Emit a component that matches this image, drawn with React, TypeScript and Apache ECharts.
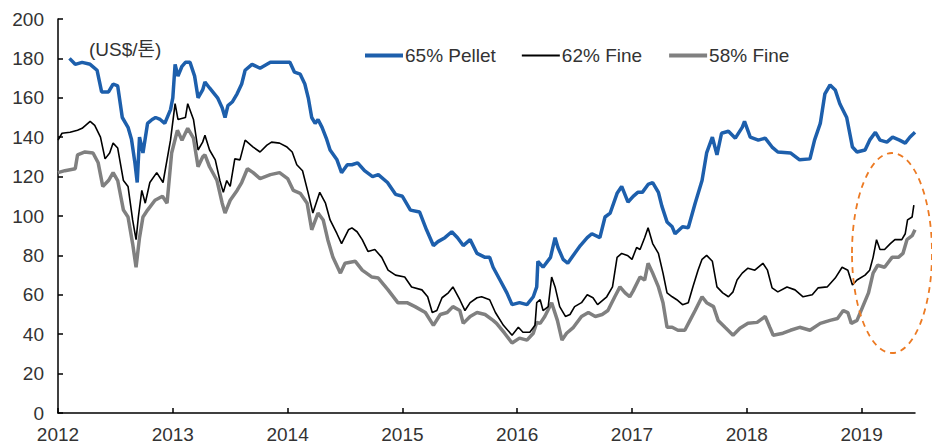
import React, { useEffect, useRef } from "react";
import * as echarts from "echarts";

// x positions are decimal years
const pelletDates = [2012.10,2012.15,2012.21,2012.28,2012.34,2012.38,2012.44,2012.48,2012.52,2012.56,2012.61,2012.64,2012.67,2012.69,2012.71,2012.74,2012.78,2012.82,2012.85,2012.89,2012.93,2012.98,2013.00,2013.02,2013.045,2013.08,2013.11,2013.15,2013.19,2013.22,2013.26,2013.28,2013.32,2013.39,2013.43,2013.455,2013.48,2013.52,2013.56,2013.60,2013.63,2013.69,2013.76,2013.85,2013.93,2014.02,2014.06,2014.11,2014.15,2014.18,2014.21,2014.24,2014.265,2014.30,2014.34,2014.37,2014.43,2014.47,2014.52,2014.56,2014.61,2014.67,2014.74,2014.79,2014.87,2014.94,2015.00,2015.07,2015.15,2015.21,2015.27,2015.31,2015.37,2015.43,2015.48,2015.53,2015.59,2015.65,2015.72,2015.76,2015.79,2015.85,2015.91,2015.955,2016.02,2016.085,2016.14,2016.17,2016.18,2016.225,2016.29,2016.33,2016.355,2016.40,2016.44,2016.50,2016.55,2016.61,2016.65,2016.72,2016.765,2016.81,2016.87,2016.91,2016.965,2017.01,2017.05,2017.09,2017.14,2017.18,2017.23,2017.26,2017.305,2017.35,2017.375,2017.44,2017.49,2017.55,2017.61,2017.65,2017.70,2017.74,2017.78,2017.84,2017.90,2017.96,2017.98,2018.03,2018.10,2018.16,2018.22,2018.27,2018.38,2018.46,2018.55,2018.59,2018.64,2018.68,2018.725,2018.77,2018.81,2018.87,2018.92,2018.96,2019.03,2019.07,2019.12,2019.16,2019.22,2019.27,2019.33,2019.38,2019.42,2019.465];
const pelletValues = [180,177,178,177,174,163,163,167,166,150,145,139,127,117,140,132,147,149,150,149,147,154,160,177,171,176,178,178,171,160,164,168,165,160,155,150,156,158,162,167,174,177,175,178,178,178,173,172,167,160,150,147,149,145,139,133.5,128.5,122,126,126,127,123,120,121,117,111,110,103,102,93,85,87,89,92,89,85,88,81,79,79,74,67.5,61,55,56,55,59,64,77,74,79,89,84,78,76,81,85,89,91,89,99.5,101.5,111.5,115,107,110,112,112,116,117,112,105,97,94.5,91,94.5,94,106.5,118,132,140,131,142,143,139.5,145,148,140,138.5,139.5,135,132.5,132,128.5,129,138.5,147,162,166.5,164,157,150,135,132.5,133.5,138.5,142.5,138.5,137.5,140,138.5,137,140,142.5];

const fine62Dates = [2012.00,2012.035,2012.105,2012.17,2012.21,2012.28,2012.32,2012.37,2012.41,2012.45,2012.48,2012.52,2012.57,2012.61,2012.65,2012.68,2012.70,2012.73,2012.76,2012.80,2012.86,2012.915,2012.98,2013.02,2013.045,2013.11,2013.13,2013.18,2013.22,2013.26,2013.28,2013.32,2013.37,2013.41,2013.44,2013.47,2013.50,2013.54,2013.585,2013.63,2013.70,2013.76,2013.82,2013.86,2013.93,2013.995,2014.04,2014.08,2014.13,2014.18,2014.22,2014.28,2014.33,2014.37,2014.43,2014.47,2014.53,2014.56,2014.605,2014.65,2014.70,2014.76,2014.82,2014.875,2014.94,2015.02,2015.08,2015.17,2015.22,2015.26,2015.30,2015.345,2015.40,2015.44,2015.50,2015.545,2015.59,2015.65,2015.69,2015.76,2015.81,2015.88,2015.955,2016.01,2016.05,2016.11,2016.155,2016.17,2016.20,2016.225,2016.27,2016.30,2016.33,2016.37,2016.42,2016.46,2016.50,2016.56,2016.61,2016.66,2016.70,2016.78,2016.83,2016.87,2016.91,2016.96,2017.00,2017.04,2017.07,2017.11,2017.14,2017.18,2017.23,2017.27,2017.305,2017.35,2017.39,2017.44,2017.49,2017.53,2017.575,2017.61,2017.65,2017.70,2017.74,2017.79,2017.84,2017.88,2017.915,2017.96,2018.01,2018.07,2018.14,2018.18,2018.22,2018.27,2018.35,2018.42,2018.49,2018.57,2018.62,2018.70,2018.77,2018.83,2018.88,2018.92,2018.96,2019.03,2019.07,2019.10,2019.13,2019.16,2019.20,2019.25,2019.29,2019.35,2019.38,2019.40,2019.44,2019.455];
const fine62Values = [138.5,142,142.5,143.5,144.5,148,146,140,129,132,137,134.5,118,115,98,88,99.5,113,106.5,117,122,117,138.5,157,149,150,157,149,133.5,137.5,141,133.5,128.5,118,112,118,115,129,128.5,138.5,135,132.5,136,137.5,137,135,132.5,126,123,111.5,101.5,112,106.5,98,91,86,93,94,92,88,82,83,79,72.5,70,69,64,62.5,59,51,52,58.5,61,64,57.5,52,56,58.5,59,57.5,51,44.5,39.5,43.5,41,41,44.5,56,57.5,52,54,69,64,54,49,50,54,56,60,58.5,55,59,64,79,81,80,78,84,83,89,94,86,81,71,61,59,57.5,55,56,64,72.5,78,80,77,64,61,59,61.5,67.5,71,73.5,72.5,76,72.5,63.5,61.5,64,62.5,59,60,63.5,64,68.5,74,72.5,65,67.5,70,72.5,79,88,83,83,86,88,88,91,98,99.5,105.5];

const fine58Dates = [2012.00,2012.06,2012.15,2012.17,2012.235,2012.305,2012.35,2012.39,2012.44,2012.48,2012.52,2012.57,2012.61,2012.65,2012.68,2012.71,2012.74,2012.78,2012.845,2012.91,2012.95,2012.99,2013.04,2013.08,2013.13,2013.18,2013.22,2013.26,2013.28,2013.32,2013.385,2013.43,2013.455,2013.50,2013.56,2013.60,2013.65,2013.70,2013.76,2013.85,2013.93,2014.00,2014.05,2014.11,2014.17,2014.21,2014.265,2014.31,2014.35,2014.395,2014.46,2014.50,2014.59,2014.65,2014.735,2014.79,2014.875,2014.96,2015.04,2015.11,2015.20,2015.27,2015.33,2015.39,2015.44,2015.50,2015.53,2015.59,2015.65,2015.72,2015.79,2015.82,2015.89,2015.955,2016.02,2016.085,2016.14,2016.17,2016.20,2016.24,2016.30,2016.35,2016.39,2016.43,2016.49,2016.56,2016.62,2016.68,2016.74,2016.79,2016.85,2016.895,2016.94,2016.98,2017.01,2017.07,2017.11,2017.14,2017.18,2017.23,2017.27,2017.305,2017.35,2017.40,2017.46,2017.505,2017.55,2017.61,2017.65,2017.71,2017.75,2017.81,2017.88,2017.94,2018.01,2018.09,2018.16,2018.20,2018.23,2018.315,2018.38,2018.46,2018.55,2018.64,2018.725,2018.79,2018.84,2018.88,2018.91,2018.96,2019.01,2019.06,2019.10,2019.14,2019.20,2019.265,2019.32,2019.36,2019.395,2019.44,2019.465];
const fine58Values = [122,123,124,131,132.5,132,127,115,118,122,118,103,99.5,86,74,89,99.5,103,108,110,106.5,132,143.5,138.5,144.5,139.5,125,130,131,125,118,106.5,101.5,108,113,117,124,122,119,121,122,119,113,111.5,106.5,93,101.5,98,88,79,71,76,77,72.5,69,68.5,62.5,56,56,54,51,44.5,50,51,54,52,45.5,49,51,50,47,45.5,40.5,35.5,38,37,40.5,46,45.5,49,56,47,37,40.5,43.5,49,51,49,50,52,59,64,61,59,62,69,67.5,76,71,64,56,43.5,43.5,42,42,47,52,59,56,54,47,43.5,39.5,43,45.5,46,49,43.5,39.5,40.5,42,43.5,42,45.5,47,48,52,51,45.5,47,54,61,71,75,74,79,79,81,88,90,93];

const yearTicks = [2012, 2013, 2014, 2015, 2016, 2017, 2018, 2019];
const seriesNames = ["65% Pellet", "62% Fine", "58% Fine"];
const unitLabel = "(US$/톤)";

const zip = (xs: number[], ys: number[]) => xs.map((x, i) => [x, ys[i]]);

const FONT = "'Liberation Sans', Arial, 'Noto Sans CJK KR', sans-serif";

export default function App() {
  const ref = useRef<HTMLDivElement>(null);
  useEffect(() => {
    if (!ref.current) return;
    const chart = echarts.init(ref.current, null, { renderer: "svg" });
    chart.setOption({
      animation: false,
      textStyle: { fontFamily: FONT },
      title: {
        text: unitLabel,
        left: 84,
        top: 35,
        textStyle: { fontSize: 19, fontWeight: "normal", color: "#333", fontFamily: FONT },
      },
      legend: {
        left: 358,
        top: 41,
        itemGap: 25,
        itemWidth: 38,
        itemHeight: 14,
        textStyle: { fontSize: 19, color: "#333", fontFamily: FONT, padding: [0, 0, 0, -3] },
        data: [
          { name: seriesNames[0], lineStyle: { width: 4 }, itemStyle: { opacity: 0 } },
          { name: seriesNames[1], lineStyle: { width: 2 }, itemStyle: { opacity: 0 } },
          { name: seriesNames[2], lineStyle: { width: 4 }, itemStyle: { opacity: 0 } },
        ],
      },
      grid: { left: 58, right: 17, top: 19, bottom: 32, containLabel: false },
      xAxis: {
        type: "value",
        min: 2012,
        max: 2019.465,
        splitLine: { show: false },
        axisLine: { lineStyle: { color: "#000", width: 1.5 } },
        axisTick: { inside: true, length: 5, customValues: yearTicks, lineStyle: { color: "#000", width: 1.5 } },
        axisLabel: {
          customValues: yearTicks,
          formatter: (v: number) => String(Math.round(v)),
          fontSize: 19,
          color: "#333",
          margin: 12,
          fontFamily: FONT,
        },
      },
      yAxis: {
        type: "value",
        min: 0,
        max: 200,
        interval: 20,
        splitLine: { show: false },
        axisLine: { show: true, lineStyle: { color: "#000", width: 1.5 } },
        axisTick: { show: true, inside: true, length: 5, lineStyle: { color: "#000", width: 1.5 } },
        axisLabel: { fontSize: 19, color: "#333", margin: 14, fontFamily: FONT },
      },
      series: [
        {
          name: seriesNames[0],
          type: "line",
          symbol: "none",
          data: zip(pelletDates, pelletValues),
          lineStyle: { color: "#1D5FAC", width: 3.5 },
          itemStyle: { color: "#1D5FAC" },
          z: 3,
        },
        {
          name: seriesNames[2],
          type: "line",
          symbol: "none",
          data: zip(fine58Dates, fine58Values),
          lineStyle: { color: "#808080", width: 3.5 },
          itemStyle: { color: "#808080" },
          z: 2,
        },
        {
          name: seriesNames[1],
          type: "line",
          symbol: "none",
          data: zip(fine62Dates, fine62Values),
          lineStyle: { color: "#000", width: 1.6 },
          itemStyle: { color: "#000" },
          z: 4,
        },
      ],
      graphic: [
        {
          type: "ellipse",
          shape: { cx: 892, cy: 253, rx: 40, ry: 100 },
          style: { fill: "none", stroke: "#EC7A23", lineWidth: 1.8, lineDash: [6, 5] },
          z: 100,
        },
      ],
    });
    return () => chart.dispose();
  }, []);
  return (
    <div
      ref={ref}
      style={{ position: "fixed", left: 0, top: 0, width: 932, height: 445, background: "#fff" }}
    />
  );
}
